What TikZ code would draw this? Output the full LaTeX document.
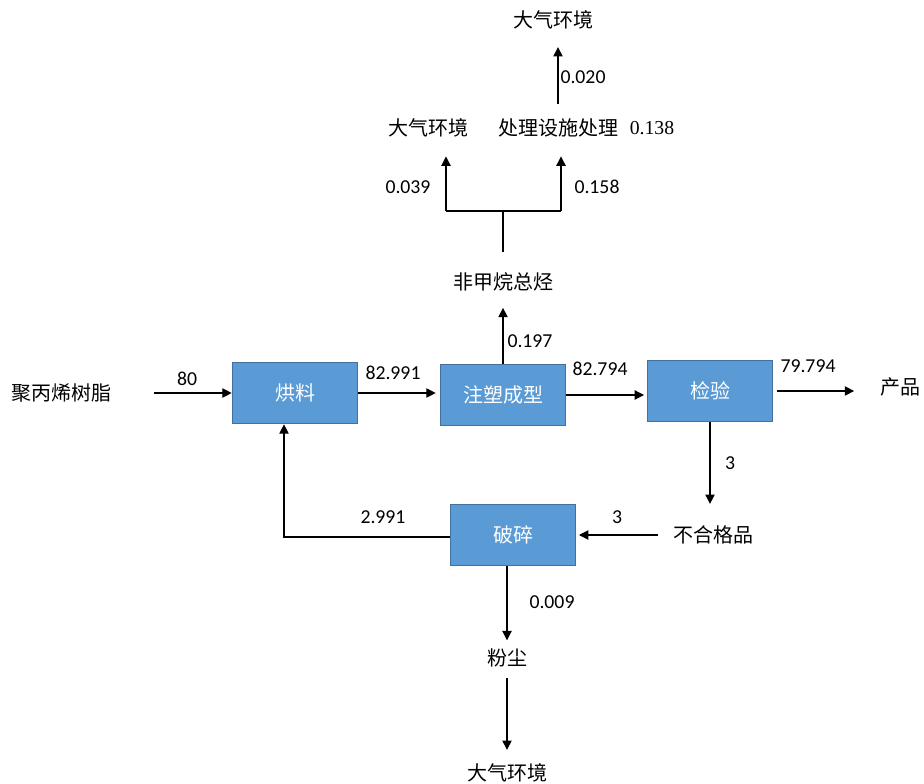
\documentclass[tikz,border=0pt]{standalone}
\usepackage{fontspec}
\setmainfont{Carlito}
\newfontfamily\cjk{Noto Sans CJK SC}
\newfontfamily\serifnum{Liberation Serif}
\usetikzlibrary{arrows.meta}
\definecolor{boxblue}{RGB}{91,155,213}
\definecolor{boxedge}{RGB}{65,113,156}
\tikzset{
  procbox/.style={draw=boxedge, line width=1pt, fill=boxblue, minimum width=94pt, minimum height=46pt, inner sep=0pt, text=white, font=\cjk\fontsize{15}{15}\selectfont},
  cntext/.style={inner sep=0pt, font=\cjk\fontsize{15}{15}\selectfont},
  numtext/.style={inner sep=0pt, font=\fontsize{14.8}{15}\selectfont},
  flow/.style={-{Triangle[length=7pt,width=7pt]}},
}

\begin{document}
\begin{tikzpicture}[x=0.75pt,y=0.75pt,yscale=-1,xscale=1,line width=0.8pt]
\path[use as bounding box] (0,0) rectangle (924,784);

%Shape: Rectangle
\node[procbox] (hongliao) at (295,393) {烘料};
%Shape: Rectangle
\node[procbox] (zhusu) at (503,395) {注塑成型};
%Shape: Rectangle
\node[procbox] (jianyan) at (710,391) {检验};
%Shape: Rectangle
\node[procbox] (posui) at (513,535) {破碎};

% Text Node
\node[cntext] (resin) at (62,393) {聚丙烯树脂};
% Text Node
\node[cntext] (product) at (900,387) {产品};
% Text Node
\node[cntext] (reject) at (713,535) {不合格品};
% Text Node
\node[cntext] (nmhc) at (503,282) {非甲烷总烃};
% Text Node
\node[cntext] (airleft) at (428,128) {大气环境};
% Text Node
\node[cntext] (treat) at (558,128) {处理设施处理};
% Text Node
\node[cntext] (airtop) at (553,20) {大气环境};
% Text Node
\node[cntext] (dust) at (507,658) {粉尘};
% Text Node
\node[cntext] (airbottom) at (507,773) {大气环境};

\coordinate (split) at (503,211);
\coordinate (splitL) at (446,211);
\coordinate (splitR) at (561,211);
\coordinate (return) at (284,537);

%Straight Lines
\draw[flow, shorten <=31pt] (resin) -- (hongliao);
\draw[flow, shorten >=3pt] (hongliao.east) -- (hongliao.east -| zhusu.west);
\draw[flow, shorten >=2pt] (zhusu.east) -- (zhusu.east -| jianyan.west);
\draw[flow, shorten <=3pt, shorten >=19pt] (jianyan.east) -- (jianyan.east -| product.west);
\draw[flow, shorten >=16pt] (jianyan.south) -- (jianyan.south |- reject.north);
\draw[flow, shorten <=11pt, shorten >=2pt] (reject.west) -- (reject.west -| posui.east);
\draw[flow] (posui.west |- return) -- (return) -- (return |- hongliao.south);
\draw[flow, shorten >=12pt] (zhusu.north) -- (zhusu.north |- nmhc.south);
\draw[shorten <=15pt] (split |- nmhc.north) -- (split);
\draw (splitL) -- (splitR);
\draw[flow, shorten >=14pt] (splitL) -- (splitL |- airleft.south);
\draw[flow, shorten >=14pt] (splitR) -- (splitR |- treat.south);
\draw[flow, shorten <=11pt, shorten >=13pt] (treat.north) -- (treat.north |- airtop.south);
\draw[flow, shorten >=6pt] (dust |- posui.south) -- (dust);
\draw[flow, shorten <=7.5pt, shorten >=10pt] (dust) -- (airbottom);

% Text Node
\node[numtext] (v80) at (187,379) {80};
% Text Node
\node[numtext] (v82991) at (393,373) {82.991};
% Text Node
\node[numtext] (v82794) at (600,369) {82.794};
% Text Node
\node[numtext] (v79794) at (808,366) {79.794};
% Text Node
\node[numtext] (v3a) at (730,463) {3};
% Text Node
\node[numtext] (v3b) at (617,517) {3};
% Text Node
\node[numtext] (v2991) at (383,517) {2.991};
% Text Node
\node[numtext] (v0197) at (530,341) {0.197};
% Text Node
\node[numtext] (v0039) at (408,187) {0.039};
% Text Node
\node[numtext] (v0158) at (597,187) {0.158};
% Text Node
\node[numtext, font=\serifnum\fontsize{14.8}{15}\selectfont] (v0138) at (652,128) {0.138};
% Text Node
\node[numtext] (v0020) at (583,77) {0.020};
% Text Node
\node[numtext] (v0009) at (552,602) {0.009};

\end{tikzpicture}
\end{document}
